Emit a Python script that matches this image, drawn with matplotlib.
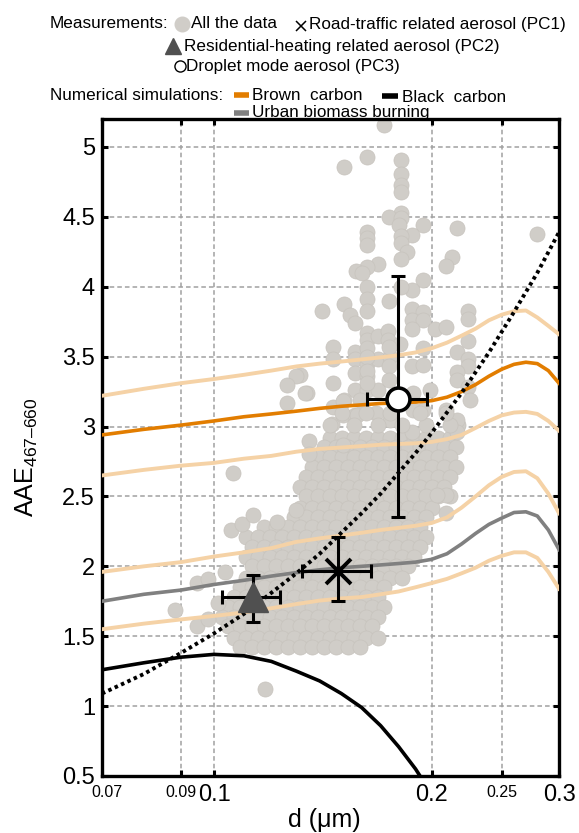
# AAE vs particle diameter: measurements + numerical simulations
import matplotlib
matplotlib.use("Agg")
import matplotlib.pyplot as plt
from matplotlib.lines import Line2D

plt.rcParams['font.family'] = ['Liberation Sans', 'DejaVu Sans']
plt.rcParams['mathtext.fontset'] = 'custom'
plt.rcParams['mathtext.rm'] = 'Liberation Sans'
plt.rcParams['mathtext.it'] = 'Liberation Sans:italic'

# ---- measurements: dense cloud, one row of diameters per AAE level ----
cloud_rows_aae = [2.92, 2.85, 2.78, 2.71, 2.64, 2.57, 2.50, 2.42, 2.35, 2.28, 2.21,
                  2.14, 2.07, 2.00, 1.92, 1.85, 1.78, 1.71, 1.64, 1.57, 1.49, 1.42]
cloud_rows_d = [
    [0.1447, 0.1503, 0.1562, 0.1622, 0.1686, 0.1751, 0.1819, 0.1890, 0.1964, 0.2040, 0.2120],
    [0.1419, 0.1475, 0.1532, 0.1592, 0.1654, 0.1718, 0.1785, 0.1855, 0.1927, 0.2002, 0.2080, 0.2161],
    [0.1392, 0.1447, 0.1503, 0.1562, 0.1622, 0.1686, 0.1751, 0.1819, 0.1890, 0.1964, 0.2040, 0.2120],
    [0.1366, 0.1419, 0.1475, 0.1532, 0.1592, 0.1654, 0.1718, 0.1785, 0.1855, 0.1927, 0.2002, 0.2080, 0.2161],
    [0.1340, 0.1392, 0.1447, 0.1503, 0.1562, 0.1622, 0.1686, 0.1751, 0.1819, 0.1890, 0.1964, 0.2040, 0.2120],
    [0.1315, 0.1366, 0.1419, 0.1475, 0.1532, 0.1592, 0.1654, 0.1718, 0.1785, 0.1855, 0.1927, 0.2002, 0.2080],
    [0.1340, 0.1392, 0.1447, 0.1503, 0.1562, 0.1622, 0.1686, 0.1751, 0.1819, 0.1890, 0.1964, 0.2040, 0.2120],
    [0.1315, 0.1366, 0.1419, 0.1475, 0.1532, 0.1592, 0.1654, 0.1718, 0.1785, 0.1855, 0.1927, 0.2002],
    [0.1290, 0.1340, 0.1392, 0.1447, 0.1503, 0.1562, 0.1622, 0.1686, 0.1751, 0.1819, 0.1890, 0.1964],
    [0.1173, 0.1218, 0.1266, 0.1315, 0.1366, 0.1419, 0.1475, 0.1532, 0.1592, 0.1654, 0.1718, 0.1785, 0.1855, 0.1927],
    [0.1107, 0.1150, 0.1195, 0.1242, 0.1290, 0.1340, 0.1392, 0.1447, 0.1503, 0.1562, 0.1622, 0.1686, 0.1751, 0.1819, 0.1890, 0.1964],
    [0.1129, 0.1173, 0.1218, 0.1266, 0.1315, 0.1366, 0.1419, 0.1475, 0.1532, 0.1592, 0.1654, 0.1718, 0.1785, 0.1855, 0.1927],
    [0.1107, 0.1150, 0.1195, 0.1242, 0.1290, 0.1340, 0.1392, 0.1447, 0.1503, 0.1562, 0.1622, 0.1686, 0.1751, 0.1819, 0.1890],
    [0.1129, 0.1173, 0.1218, 0.1266, 0.1315, 0.1366, 0.1419, 0.1475, 0.1532, 0.1592, 0.1654, 0.1718, 0.1785, 0.1855],
    [0.1107, 0.1150, 0.1195, 0.1242, 0.1290, 0.1340, 0.1392, 0.1447, 0.1503, 0.1562, 0.1622, 0.1686, 0.1751, 0.1819],
    [0.1086, 0.1129, 0.1173, 0.1218, 0.1266, 0.1315, 0.1366, 0.1419, 0.1475, 0.1532, 0.1592, 0.1654, 0.1718],
    [0.1066, 0.1107, 0.1150, 0.1195, 0.1242, 0.1290, 0.1340, 0.1392, 0.1447, 0.1503, 0.1562, 0.1622, 0.1686],
    [0.1046, 0.1086, 0.1129, 0.1173, 0.1218, 0.1266, 0.1315, 0.1366, 0.1419, 0.1475, 0.1532, 0.1592, 0.1654, 0.1718],
    [0.1026, 0.1066, 0.1107, 0.1150, 0.1195, 0.1242, 0.1290, 0.1340, 0.1392, 0.1447, 0.1503, 0.1562, 0.1622, 0.1686],
    [0.1046, 0.1086, 0.1129, 0.1173, 0.1218, 0.1266, 0.1315, 0.1366, 0.1419, 0.1475, 0.1532, 0.1592, 0.1654],
    [0.1066, 0.1107, 0.1150, 0.1195, 0.1242, 0.1290, 0.1340, 0.1392, 0.1447, 0.1503, 0.1562, 0.1622, 0.1686],
    [0.1086, 0.1129, 0.1173, 0.1218, 0.1266, 0.1315, 0.1366, 0.1419, 0.1475, 0.1532, 0.1592],
]

# ---- measurements: scattered points outside the cloud ----
sparse_d = [0.1718, 0.1513, 0.1627, 0.1813, 0.1813, 0.1813, 0.1813, 0.1813, 0.1745, 0.1813,
            0.1805, 0.1945, 0.1878, 0.1627, 0.1627, 0.1627, 0.1813, 0.1813, 0.1849, 0.1813,
            0.2168, 0.2133, 0.2093, 0.1686, 0.1627, 0.1572, 0.1602, 0.1945, 0.1878, 0.1627,
            0.1627, 0.1745, 0.1513, 0.1410, 0.1627, 0.1813, 0.1878, 0.1945, 0.2245, 0.2797,
            0.1542, 0.1567, 0.1878, 0.1945, 0.1878, 0.2021, 0.2093, 0.2245, 0.1461, 0.1461,
            0.1567, 0.1627, 0.1627, 0.1686, 0.1740, 0.1740, 0.1808, 0.1945, 0.2168, 0.2245,
            0.2245, 0.2245, 0.1567, 0.1627, 0.1686, 0.1751, 0.1878, 0.1945, 0.1315, 0.1567,
            0.1627, 0.1461, 0.1344, 0.1567, 0.1627, 0.1686, 0.1884, 0.2168, 0.2168, 0.2245,
            0.1989, 0.1298, 0.1262, 0.1336, 0.1262, 0.1353, 0.1353, 0.1063, 0.1461, 0.1513,
            0.1592, 0.1458, 0.1510, 0.1567, 0.1945, 0.2093, 0.2168, 0.2259, 0.1510, 0.1878,
            0.1627, 0.1627, 0.1627, 0.1745, 0.1745, 0.1745, 0.1627, 0.1510, 0.1577, 0.1676,
            0.1751, 0.1884, 0.2130, 0.2174, 0.2168, 0.2168, 0.2093, 0.2093, 0.2034,
            0.1447, 0.1562, 0.1686, 0.1819, 0.1964, 0.2120, 0.1503, 0.1622, 0.1751, 0.1927, 0.2093,
            0.0883, 0.0947, 0.0981, 0.1036, 0.1056, 0.1094, 0.1133, 0.1222, 0.1298, 0.1177,
            0.0947, 0.0981, 0.1013]
sparse_aae = [5.16, 4.86, 4.93, 4.91, 4.81, 4.73, 4.68, 4.53, 4.50, 4.49,
              4.44, 4.44, 4.37, 4.39, 4.35, 4.30, 4.36, 4.31, 4.25, 4.20,
              4.42, 4.21, 4.15, 4.16, 4.14, 4.11, 4.10, 4.05, 3.98, 4.00,
              3.91, 3.90, 3.88, 3.83, 3.83, 4.00, 3.84, 3.82, 3.83, 4.38,
              3.80, 3.74, 3.76, 3.76, 3.70, 3.70, 3.71, 3.77, 3.57, 3.48,
              3.53, 3.67, 3.62, 3.65, 3.68, 3.62, 3.59, 3.56, 3.53, 3.61,
              3.48, 3.43, 3.48, 3.45, 3.48, 3.50, 3.43, 3.44, 3.37, 3.38,
              3.36, 3.31, 3.24, 3.26, 3.26, 3.26, 3.24, 3.39, 3.33, 3.28,
              3.26, 3.36, 3.30, 3.24, 3.17, 2.90, 2.80, 2.67, 3.14, 3.19,
              3.19, 3.02, 3.08, 3.08, 3.12, 3.12, 3.02, 3.19, 2.87, 2.96,
              3.56, 3.50, 3.40, 3.57, 3.43, 3.33, 3.31, 3.18, 3.08, 3.10,
              3.05, 3.12, 3.02, 3.01, 3.05, 2.96, 2.38, 2.51, 2.51,
              3.01, 3.01, 3.01, 3.01, 3.01, 3.01, 3.10, 3.10, 3.10, 3.10, 3.10,
              1.69, 1.88, 1.91, 1.96, 2.26, 2.30, 2.37, 2.32, 2.40, 1.12,
              1.57, 1.62, 1.74]

# ---- principal components (mean +/- range) ----
pc1_d, pc1_aae = 0.1485, 1.97
pc1_d_lo, pc1_d_hi, pc1_aae_lo, pc1_aae_hi = 0.1322, 0.1651, 1.75, 2.21
pc2_d, pc2_aae = 0.1133, 1.78
pc2_d_lo, pc2_d_hi, pc2_aae_lo, pc2_aae_hi = 0.1026, 0.1234, 1.60, 1.94
pc3_d, pc3_aae = 0.1796, 3.20
pc3_d_lo, pc3_d_hi, pc3_aae_lo, pc3_aae_hi = 0.163, 0.197, 2.35, 4.08

# ---- numerical simulations ----
sim_d = [0.07, 0.08, 0.09, 0.10, 0.11, 0.12, 0.13, 0.14, 0.15, 0.16, 0.17, 0.18,
         0.19, 0.20, 0.21, 0.22, 0.23, 0.24, 0.25, 0.26, 0.27, 0.28, 0.29, 0.30]
brc_main = [2.94, 2.98, 3.01, 3.04, 3.07, 3.09, 3.11, 3.13, 3.145, 3.155, 3.165, 3.17,
            3.175, 3.185, 3.21, 3.25, 3.30, 3.36, 3.41, 3.445, 3.46, 3.45, 3.40, 3.31]
brc_band1 = [3.22, 3.27, 3.31, 3.34, 3.37, 3.40, 3.43, 3.45, 3.465, 3.48, 3.495, 3.51,
             3.53, 3.56, 3.60, 3.65, 3.70, 3.76, 3.80, 3.825, 3.83, 3.78, 3.72, 3.66]
brc_band2 = [2.65, 2.69, 2.72, 2.74, 2.77, 2.79, 2.82, 2.84, 2.85, 2.86, 2.87, 2.875,
             2.88, 2.89, 2.91, 2.94, 2.99, 3.04, 3.08, 3.10, 3.105, 3.09, 3.04, 2.97]
brc_band3 = [1.96, 2.00, 2.03, 2.07, 2.10, 2.13, 2.175, 2.20, 2.22, 2.24, 2.26, 2.275,
             2.29, 2.31, 2.35, 2.42, 2.50, 2.58, 2.64, 2.675, 2.68, 2.63, 2.52, 2.38]
brc_band4 = [1.55, 1.59, 1.62, 1.645, 1.67, 1.70, 1.73, 1.755, 1.77, 1.78, 1.80, 1.82,
             1.85, 1.88, 1.91, 1.95, 1.99, 2.04, 2.075, 2.10, 2.10, 2.06, 1.96, 1.84]
ubb = [1.75, 1.80, 1.83, 1.87, 1.90, 1.93, 1.955, 1.975, 1.99, 2.00, 2.01, 2.02,
       2.03, 2.05, 2.09, 2.16, 2.235, 2.30, 2.345, 2.385, 2.39, 2.36, 2.26, 2.12]
bc_d = [0.07, 0.08, 0.09, 0.10, 0.11, 0.12, 0.13, 0.14, 0.15, 0.16, 0.17, 0.18, 0.19, 0.20]
bc = [1.26, 1.31, 1.35, 1.37, 1.36, 1.32, 1.25, 1.18, 1.09, 0.99, 0.86, 0.71, 0.55, 0.37]
fit_d = [0.07, 0.08, 0.09, 0.10, 0.11, 0.12, 0.13, 0.14, 0.15, 0.16, 0.17, 0.18,
         0.19, 0.20, 0.22, 0.24, 0.26, 0.28, 0.30]
fit_aae = [1.09, 1.23, 1.38, 1.52, 1.66, 1.81, 1.95, 2.09, 2.24, 2.38, 2.52, 2.67,
           2.81, 2.955, 3.24, 3.53, 3.82, 4.10, 4.39]

xticks = [0.07, 0.09, 0.1, 0.2, 0.25, 0.3]
xtick_labels = ['0.07', '0.09', '0.1', '0.2', '0.25', '0.3']
yticks = [0.5, 1, 1.5, 2, 2.5, 3, 3.5, 4, 4.5, 5]
ytick_labels = ['0.5', '1', '1.5', '2', '2.5', '3', '3.5', '4', '4.5', '5']

W, H = 579, 833
fig = plt.figure(figsize=(W / 100, H / 100), dpi=100)
ax = fig.add_axes([102 / W, 1 - 776 / H, 457 / W, 657 / H])

point_col = '#D0CDC8'
orange = '#E27D00'
band_col = '#F5D2A6'

all_d, all_aae = [], []
for a, row in zip(cloud_rows_aae, cloud_rows_d):
    all_d += row
    all_aae += [a] * len(row)
all_d += sparse_d
all_aae += sparse_aae
ax.scatter(all_d, all_aae, s=118, c=point_col, edgecolors='#C7C3BD', linewidths=0.5, zorder=2)

for band in (brc_band1, brc_band2, brc_band3, brc_band4):
    ax.plot(sim_d, band, color=band_col, lw=2.8, zorder=3)
ax.plot(sim_d, brc_main, color=orange, lw=2.6, zorder=4)
ax.plot(sim_d, ubb, color='#808080', lw=2.6, zorder=4)
ax.plot(bc_d, bc, color='black', lw=2.6, zorder=4)
ax.plot(fit_d, fit_aae, color='black', lw=2.8, ls=(0, (0.9, 0.9)), zorder=5)

ebkw = dict(fmt='none', ecolor='black', elinewidth=2.2, capsize=5, capthick=2.2, zorder=6)
for x, y, xl, xh, yl, yh in [(pc1_d, pc1_aae, pc1_d_lo, pc1_d_hi, pc1_aae_lo, pc1_aae_hi),
                             (pc2_d, pc2_aae, pc2_d_lo, pc2_d_hi, pc2_aae_lo, pc2_aae_hi),
                             (pc3_d, pc3_aae, pc3_d_lo, pc3_d_hi, pc3_aae_lo, pc3_aae_hi)]:
    ax.errorbar([x], [y], xerr=[[x - xl], [xh - x]], yerr=[[y - yl], [yh - y]], **ebkw)
ax.plot([pc1_d], [pc1_aae], marker='x', ms=18, mew=2.8, color='black', zorder=7)
ax.plot([pc2_d], [pc2_aae], marker='^', ms=22, color='#505050', mec='#505050', zorder=7)
ax.plot([pc3_d], [pc3_aae], marker='o', ms=16.5, mfc='white', mec='black', mew=2.6, zorder=7)

ax.set_xscale('log')
ax.set_xlim(0.07, 0.3)
ax.set_ylim(0.5, 5.2)
ax.xaxis.set_minor_locator(matplotlib.ticker.NullLocator())
ax.set_xticks(xticks)
ax.set_xticklabels([])
ax.set_yticks(yticks)
ax.set_yticklabels(ytick_labels, fontsize=17)
ax.tick_params(which='major', direction='in', length=4, width=2.2, top=True, right=True, pad=5)
ax.grid(True, ls=(0, (3, 2)), color='#A0A0A0', lw=1.1, zorder=0)
ax.set_axisbelow(True)
for sp in ax.spines.values():
    sp.set_linewidth(2.4)

for x, lab in zip(xticks, xtick_labels):
    big = lab in ('0.1', '0.2', '0.3')
    dx = 3.5 if lab == '0.07' else 0
    ax.annotate(lab, (x, 0), xycoords=('data', 'axes fraction'),
                xytext=(dx, -18 if big else -15), textcoords='offset points',
                ha='center', va='baseline', fontsize=17 if big else 11.5)

fig.text(324 / W, 1 - 827 / H, 'd (\u03bcm)', ha='center', va='baseline', fontsize=18)
fig.text(27 / W, 1 - 457 / H, 'AAE$_{\\mathregular{467\u2013660}}$', rotation=90,
         ha='center', va='center', fontsize=18)


# ---- legend built by hand at the top ----
def ftxt(x, y, s, **kw):
    fig.text(x / W, 1 - y / H, s, ha='left', va='center', fontsize=12.3, **kw)


def fmark(x, y, **kw):
    fig.add_artist(Line2D([x / W], [1 - y / H], transform=fig.transFigure, ls='none', **kw))


def fbar(x0, x1, y, color):
    fig.add_artist(Line2D([x0 / W, x1 / W], [1 - y / H, 1 - y / H], transform=fig.transFigure,
                          color=color, lw=4, solid_capstyle='butt'))


ftxt(50, 24, 'Measurements:')
fmark(181.5, 24, marker='o', ms=10.5, mfc=point_col, mec=point_col)
ftxt(191, 24, 'All the data')
fmark(301, 26, marker='x', ms=7, mew=1.1, color='black')
ftxt(309, 24, 'Road-traffic related aerosol (PC1)')
fmark(173, 46, marker='^', ms=11, color='#505050')
ftxt(184, 46, 'Residential-heating related aerosol (PC2)')
fmark(180, 66, marker='o', ms=8, mfc='white', mec='black', mew=1)
ftxt(186, 66, 'Droplet mode aerosol (PC3)')
ftxt(50, 95, 'Numerical simulations:')
fbar(234, 249, 95, orange)
ftxt(252, 96, 'Brown  carbon')
fbar(382, 398, 96, 'black')
ftxt(402, 97, 'Black  carbon')
fbar(234, 249, 113, '#808080')
ftxt(252, 113, 'Urban biomass burning')

fig.savefig('out.png', dpi=100)
